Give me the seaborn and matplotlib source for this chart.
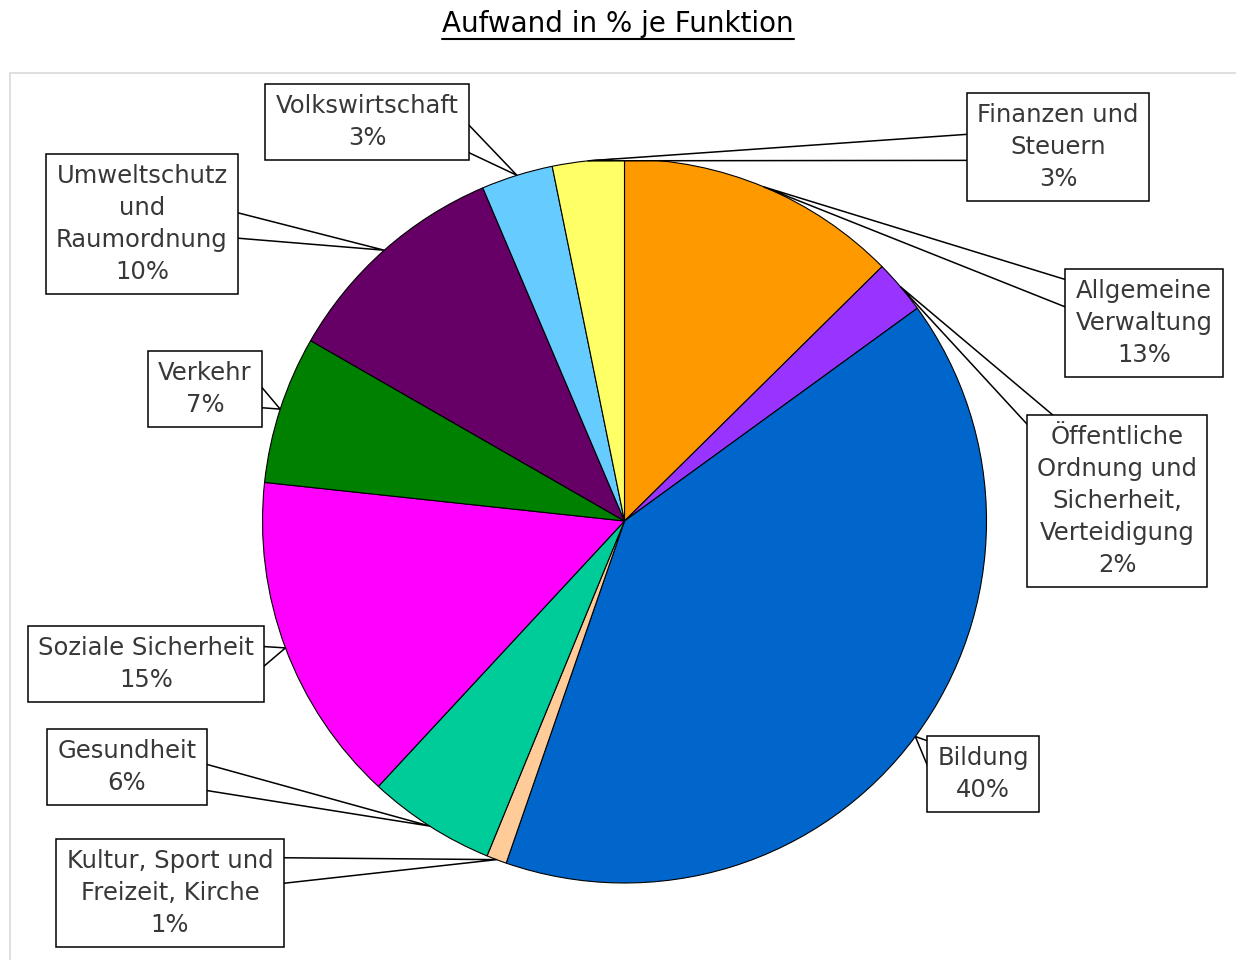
import matplotlib.pyplot as plt
from matplotlib.lines import Line2D
from matplotlib.transforms import IdentityTransform
import numpy as np
import seaborn as sns

# Data: slices clockwise starting at 12 o'clock
funktionen = [
    "Allgemeine\nVerwaltung",
    "Öffentliche\nOrdnung und\nSicherheit,\nVerteidigung",
    "Bildung",
    "Kultur, Sport und\nFreizeit, Kirche",
    "Gesundheit",
    "Soziale Sicherheit",
    "Verkehr",
    "Umweltschutz\nund\nRaumordnung",
    "Volkswirtschaft",
    "Finanzen und\nSteuern",
]
anteile = [12.6, 2.4, 40.3, 0.9, 5.7, 14.8, 6.6, 10.3, 3.2, 3.2]
farben = ["#FF9900", "#9933FF", "#0066CC", "#FFCC99", "#00CC99",
          "#FF00FF", "#008000", "#660066", "#66CCFF", "#FFFF66"]

# layout: label box centres in pixels (from top-left) and where the pointer leaves the text
label_pos = [(1144, 323), (1117, 501), (983, 774), (170, 893), (127, 767),
             (146, 664), (205, 389), (142, 224), (367, 122), (1058, 147)]
label_rel = [(0, 0.8), (0.1, 0.95), (0, 0.8), (1, 0.75), (1, 0.35),
             (1, 0.6), (1, 0.4), (1, 0.5), (1, 0.3), (0, 0.5)]

W, H = 1236, 960
sns.set_theme(style="white")
plt.rcParams["font.family"] = ["DejaVu Sans"]

fig = plt.figure(figsize=(W / 100, H / 100), dpi=100)
ax = fig.add_axes([0, 0, 1, 1])

cx, cy, r = 624.5, H - 521, 362
wedges, _ = ax.pie(
    anteile,
    colors=farben,
    startangle=90,
    counterclock=False,
    center=(cx, cy),
    radius=r,
    wedgeprops=dict(edgecolor="black", linewidth=0.8),
)
ax.set_xlim(0, W)
ax.set_ylim(0, H)
ax.set_aspect("auto")
ax.axis("off")

# light grey frame of the chart area
ax.plot([10, 10, W], [0, H - 73, H - 73], color="#D9D9D9", lw=1.2)

for w, name, val, pos, rel in zip(wedges, funktionen, anteile, label_pos, label_rel):
    mid = np.deg2rad((w.theta1 + w.theta2) / 2)
    anchor = (cx + r * np.cos(mid), cy + r * np.sin(mid))
    ax.annotate(
        f"{name}\n{round(val)}%",
        xy=anchor,
        xytext=(pos[0], H - pos[1]),
        ha="center", va="center",
        fontsize=17.5, color="#383838", linespacing=1.42,
        bbox=dict(boxstyle="square,pad=0.42", fc="white", ec="black", lw=1.1),
        arrowprops=dict(arrowstyle="wedge,tail_width=1.1", fc="white", ec="black",
                        lw=1.1, patchA=None, shrinkA=0, shrinkB=0, relpos=rel),
    )

title = fig.text(0.5, 1 - 24 / H, "Aufwand in % je Funktion", ha="center", va="center",
                 fontsize=20, color="black")
fig.canvas.draw()
bb = title.get_window_extent(fig.canvas.get_renderer())
fig.add_artist(Line2D([bb.x0, bb.x1], [bb.y0 - 1, bb.y0 - 1], transform=IdentityTransform(),
                      color="black", lw=1.5))

fig.savefig("out.png", dpi=100)
